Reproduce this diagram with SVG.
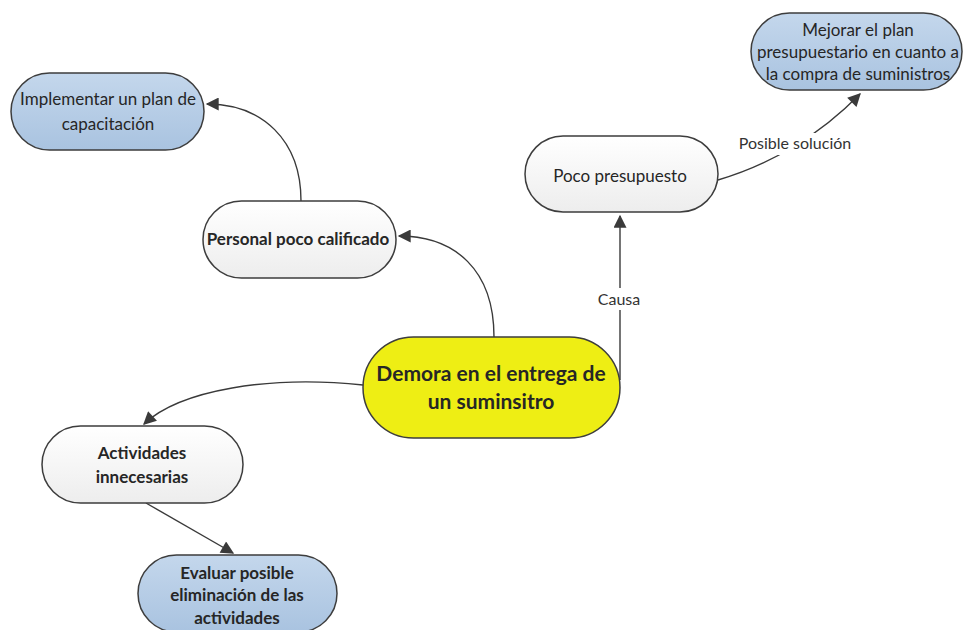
<svg xmlns="http://www.w3.org/2000/svg" width="964" height="630" viewBox="0 0 964 630">
  <defs>
    <linearGradient id="gWhite" x1="0" y1="0" x2="0" y2="1">
      <stop offset="0" stop-color="#ffffff"/>
      <stop offset="1" stop-color="#ededed"/>
    </linearGradient>
    <linearGradient id="gBlue" x1="0" y1="0" x2="0" y2="1">
      <stop offset="0" stop-color="#c4d7ec"/>
      <stop offset="1" stop-color="#a9c3e0"/>
    </linearGradient>
    <marker id="arrowL" viewBox="0 0 10 10" refX="9" refY="5" markerWidth="16" markerHeight="13" orient="auto" markerUnits="userSpaceOnUse">
      <path d="M0,0 L10,5 L0,10 z" fill="#3a3a3a"/>
    </marker>
  </defs>
  <style>
    .node { stroke: #3d3d3d; stroke-width: 1.5; }
    .white { fill: url(#gWhite); }
    .blue { fill: url(#gBlue); }
    .yellow { fill: #eeee14; }
    .t { font-family: Lato, "Open Sans", sans-serif; font-size: 17px; fill: #262626; text-anchor: middle; }
    .b { font-weight: bold; }
    .big { font-size: 21px; }
    .edge { fill: none; stroke: #3a3a3a; stroke-width: 1.4; marker-end: url(#arrowL); }
    .lbl { font-family: Lato, "Open Sans", sans-serif; font-size: 16px; fill: #333; text-anchor: middle; }
    .lblbg { fill: #ffffff; }
  </style>
  <rect width="964" height="630" fill="#ffffff"/>

  <!-- connectors -->
  <g id="connectors">
    <path class="edge" d="M494,337 C494,270 455,236 399,236"/>
    <path class="edge" d="M301,201 C301,140 262,104 207,104"/>
    <path class="edge" d="M620,380 L620,216"/>
    <path class="edge" d="M718,180 C770,165 820,135 860,94"/>
    <path class="edge" d="M363,385 C270,375 180,390 144,424"/>
    <path class="edge" d="M146,503 L233,553"/>
    <rect class="lblbg" x="595" y="288" width="48" height="22"/>
    <text class="lbl" x="619" y="305">Causa</text>
    <rect class="lblbg" x="735" y="133" width="120" height="22"/>
    <text class="lbl" x="795" y="149">Posible solución</text>
  </g>

  <g id="n-implementar">
    <rect class="node blue" x="11" y="73" width="193" height="77" rx="38.5"/>
    <text class="t" x="108" y="105">Implementar un plan de</text>
    <text class="t" x="108" y="130">capacitación</text>
  </g>

  <g id="n-personal">
    <rect class="node white" x="203" y="201" width="193" height="77" rx="38.5"/>
    <text class="t b" x="298" y="245">Personal poco calificado</text>
  </g>

  <g id="n-presupuesto">
    <rect class="node white" x="525" y="136" width="193" height="76" rx="38"/>
    <text class="t" x="620" y="182">Poco presupuesto</text>
  </g>

  <g id="n-mejorar">
    <rect class="node blue" x="751" y="13" width="211" height="77" rx="38.5"/>
    <text class="t" x="858" y="36">Mejorar el plan</text>
    <text class="t" x="858" y="58">presupuestario en cuanto a</text>
    <text class="t" x="858" y="80">la compra de suministros</text>
  </g>

  <g id="n-demora">
    <rect class="node yellow" x="363" y="337" width="257" height="101" rx="50.5"/>
    <text class="t b big" x="491" y="381">Demora en el entrega de</text>
    <text class="t b big" x="491" y="409">un suminsitro</text>
  </g>

  <g id="n-actividades">
    <rect class="node white" x="42" y="426" width="201" height="77" rx="38.5"/>
    <text class="t b" x="142" y="459">Actividades</text>
    <text class="t b" x="142" y="483">innecesarias</text>
  </g>

  <g id="n-evaluar">
    <rect class="node blue" x="138" y="555" width="199" height="77" rx="38.5"/>
    <text class="t b" x="237" y="579">Evaluar posible</text>
    <text class="t b" x="237" y="601">eliminación de las</text>
    <text class="t b" x="237" y="624">actividades</text>
  </g>
</svg>
